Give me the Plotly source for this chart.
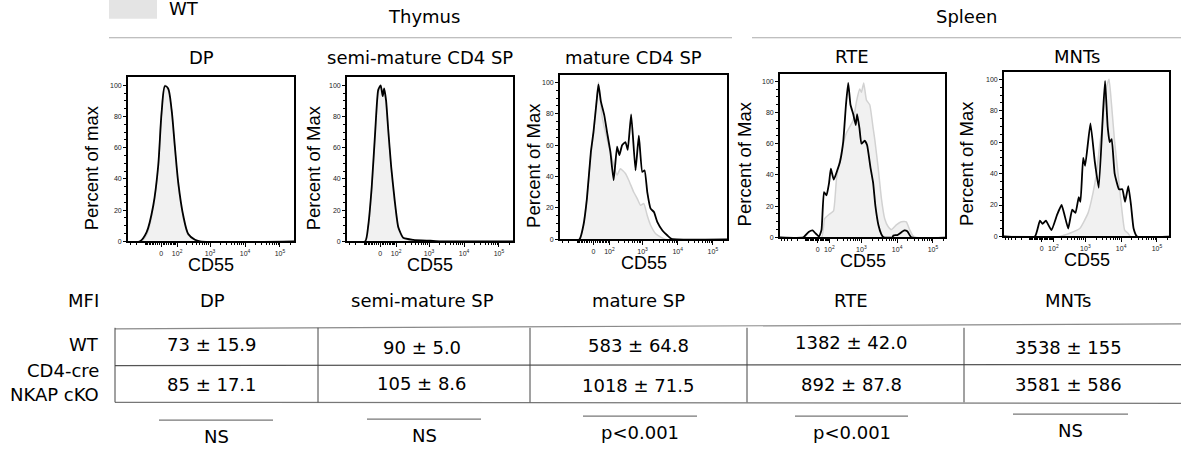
import numpy as np
import plotly.graph_objects as go

W, H = 1181, 450

# ---------------- data (CD55 fluorescence a.u. -> percent of max) ----------------
dp_wt_cd55 = [-700, -140, -85, -44, -16, 2, 20, 38, 59, 82, 110, 162, 231, 366, 511, 300000]
dp_wt_pct = [0, 0, 5, 21.5, 47, 83, 100, 97, 83, 59, 36, 15, 4, 0.8, 0, 0]
dp_ko_cd55 = [-700, -153, -90, -44, -16, 2, 20, 38, 59, 82, 110, 162, 231, 366, 511, 300000]
dp_ko_pct = [0, 0, 5.7, 22.8, 48.3, 82.3, 99.5, 98, 84.5, 61, 37.7, 16.4, 4.7, 1, 0, 0]

semi_wt_cd55 = [-700, -90, -70, -47, -27, -10.6, 2.6, 13.2, 21, 32, 44, 63, 89, 120, 174, 349, 1083, 2096, 300000]
semi_wt_pct = [0, 0, 9, 33, 68, 95, 99, 96, 97, 88, 70, 46, 24, 8, 2, 0.5, 0, 0, 0]
semi_ko_cd55 = [-700, -93, -70, -47, -27, -10.6, 2.6, 13.2, 21, 32, 44, 63, 89, 120, 174, 349, 1083, 2096, 300000]
semi_ko_pct = [0, 0, 10, 35, 70, 97, 100, 93, 98, 90, 72, 48, 26, 9, 2.3, 1, 0.4, 0, 0]

mat_wt_cd55 = [-700, -79, -56, -35, -13, 0.5, 18.6, 27, 47, 81, 124, 180, 227, 321, 401, 560, 703, 875,
               1090, 1365, 1696, 2362, 3281, 4566, 300000]
mat_wt_pct = [0, 0, 9, 26, 55, 68, 90, 100, 79, 64, 51.5, 41, 45, 42, 37.7, 30, 26, 21.7,
              22.8, 15, 9, 3.6, 1.5, 0, 0]
mat_ko_cd55 = [-700, -84, -56, -35, -13, 0.5, 18.6, 27, 41, 62, 81, 108, 140, 180, 212, 256, 321, 375,
               471, 628, 782, 979, 1141, 1365, 1696, 2110, 2640, 3672, 5110, 6650, 300000]
mat_ko_pct = [0, 0, 9, 26, 56, 68.5, 90, 98.7, 87.7, 79, 68.5, 56, 37.7, 59, 53.6, 60, 62, 57,
              79.6, 44, 66, 43, 44, 30, 19.6, 17.4, 11, 5.7, 2.5, 0.4, 0]

rte_wt_cd55 = [-700, 31, 56, 102, 146, 186, 267, 376, 587, 727, 900, 1005, 1166, 1388, 1717, 2137, 2368,
               2942, 3638, 4497, 5590, 6913, 9525, 13130, 18070, 22340, 27790, 34340, 300000]
rte_wt_pct = [0, 0, 12, 15, 17, 38, 55, 67, 75, 87, 95, 93, 99, 88, 85, 70, 63,
              45, 25, 12, 7, 5, 8, 10, 10, 5, 1, 0, 0]
rte_ko_cd55 = [-700, -126, -73, -39, -15, 11.6, 31, 51, 73, 97, 115, 149, 196, 237, 300, 363, 422, 491,
               587, 695, 761, 883, 1005, 1244, 1452, 1795, 2137, 2476, 3000, 3638, 4209, 7368, 7860,
               10150, 15900, 19270, 24900, 300000]
rte_ko_pct = [0, 0, 3.5, 4.5, 2.5, 0.5, 5, 29, 27, 35, 44, 37, 43, 48, 61, 85, 99, 85,
              79, 72, 79, 70, 60, 62, 59, 45, 35, 20, 8, 2, 0, 0, 1.3,
              1.5, 4.5, 4, 0, 0]

mnt_wt_cd55 = [-700, 176, 358, 695, 1196, 1651, 2042, 2524, 3138, 3880, 4608, 5351, 6605, 8220, 10150,
               12550, 15600, 18070, 300000]
mnt_wt_pct = [0, 0, 2, 5, 15, 28, 40, 58, 75, 95, 100, 85, 60, 40, 20, 4, 2, 0, 0]
mnt_ko_cd55 = [-700, -53, -13, 7.7, 33.5, 82, 142, 201, 253, 322, 422, 525, 650, 727, 867, 986, 1388,
               1831, 2368, 3138, 3569, 4209, 4795, 5450, 6605, 8760, 10820, 12870, 15900, 18900,
               22340, 27790, 300000]
mnt_ko_pct = [0, 0, 10, 8, 10, 4, 14, 20, 13, 5, 17, 15, 25, 22, 50, 45, 72,
              48, 31, 80, 99, 70, 60, 62, 40, 30, 30, 22, 32, 20,
              5, 0, 0]

panel_titles = ["DP", "semi-mature CD4 SP", "mature CD4 SP", "RTE", "MNTs"]
y_titles = ["Percent of max", "Percent of Max", "Percent of Max", "Percent of Max", "Percent of Max"]
x_title = "CD55"
x_tick_cd55 = [0, 100, 1000, 10000, 100000]
x_tick_text = ["0", "10<sup>2</sup>", "10<sup>3</sup>", "10<sup>4</sup>", "10<sup>5</sup>"]
y_tick_vals = [0, 20, 40, 60, 80, 100]

tissues = ["Thymus", "Spleen"]
legend_label = "WT"
mfi_columns = ["DP", "semi-mature SP", "mature SP", "RTE", "MNTs"]
row_labels = ["WT", "CD4-cre", "NKAP cKO"]
mfi_wt_mean = [73, 90, 583, 1382, 3538]
mfi_wt_sd = ["15.9", "5.0", "64.8", "42.0", "155"]
mfi_ko_mean = [85, 105, 1018, 892, 3581]
mfi_ko_sd = ["17.1", "8.6", "71.5", "87.8", "586"]
significance = ["NS", "NS", "p<0.001", "p<0.001", "NS"]

# ---------------- styling / layout ----------------
TF = "DejaVu Sans"
AF = "Liberation Sans, Arial, sans-serif"
WT_LINE = "#d2d2d2"
WT_FILL = "#f1f1f1"


def biex(v, c):
    return np.arcsinh(np.asarray(v, dtype=float) / (2.0 * c)) / np.log(10)


def px(x):
    return x / W


def py(y):
    return 1 - y / H


panels = [
    dict(frame=(128, 294, 78, 243), c=40, rng=(-0.95, 3.80), wt=(dp_wt_cd55, dp_wt_pct), ko=(dp_ko_cd55, dp_ko_pct), smooth=0.8),
    dict(frame=(347, 513, 78, 243), c=40, rng=(-0.95, 3.80), wt=(semi_wt_cd55, semi_wt_pct), ko=(semi_ko_cd55, semi_ko_pct), smooth=0.5),
    dict(frame=(560, 727, 75, 241), c=40, rng=(-0.95, 3.80), wt=(mat_wt_cd55, mat_wt_pct), ko=(mat_ko_cd55, mat_ko_pct), smooth=0.4),
    dict(frame=(780, 945, 74, 239), c=60, rng=(-1.05, 3.56), wt=(rte_wt_cd55, rte_wt_pct), ko=(rte_ko_cd55, rte_ko_pct), smooth=0.4),
    dict(frame=(1004, 1169, 72, 238), c=60, rng=(-1.05, 3.56), wt=(mnt_wt_cd55, mnt_wt_pct), ko=(mnt_ko_cd55, mnt_ko_pct), smooth=0.4),
]
title_pos = [(201, 58), (420, 58), (633, 58), (852, 57), (1077, 57)]
ytitle_x = [91, 313, 534, 744, 967]

minor_cd55 = ([-k * 10 ** n for n in (1, 2) for k in range(1, 10)] +
              [k * 10 for k in range(1, 10)] +
              [k * 10 ** n for n in (2, 3, 4, 5) for k in range(2, 10)])

fig = go.Figure()
layout = dict(
    width=W, height=H, autosize=False,
    margin=dict(l=0, r=0, t=0, b=0),
    paper_bgcolor="white", plot_bgcolor="white",
    showlegend=False,
)
annotations = []
shapes = []

for i, p in enumerate(panels):
    n = i + 1
    xa = "x" if n == 1 else f"x{n}"
    ya = "y" if n == 1 else f"y{n}"
    x0, x1, y0, y1 = p["frame"]
    c = p["c"]
    wx, wy = p["wt"]
    kx, ky = p["ko"]
    fig.add_trace(go.Scatter(
        x=biex(wx, c), y=wy, mode="lines", xaxis=xa, yaxis=ya,
        line=dict(color=WT_LINE, width=1.5, shape="spline", smoothing=p["smooth"]),
        fill="tozeroy", fillcolor=WT_FILL, hoverinfo="skip"))
    fig.add_trace(go.Scatter(
        x=biex(kx, c), y=ky, mode="lines", xaxis=xa, yaxis=ya,
        line=dict(color="black", width=1.8, shape="spline", smoothing=p["smooth"]),
        hoverinfo="skip"))

    common = dict(showline=True, mirror=True, linecolor="black", linewidth=1.7,
                  showgrid=False, zeroline=False, ticks="outside", tickcolor="black",
                  tickwidth=1, tickfont=dict(family=AF, size=7, color="#222"))
    layout["xaxis" if n == 1 else f"xaxis{n}"] = dict(
        common, domain=[px(x0), px(x1)], anchor=ya, range=list(p["rng"]),
        tickmode="array", tickvals=list(biex(x_tick_cd55, c)), ticktext=x_tick_text,
        ticklen=4,
        minor=dict(tickmode="array", tickvals=list(biex(minor_cd55, c)), ticks="outside",
                   ticklen=2, tickcolor="black", tickwidth=1))
    layout["yaxis" if n == 1 else f"yaxis{n}"] = dict(
        common, domain=[py(y1), py(y0)], anchor=xa, range=[0, 105],
        tickmode="array", tickvals=y_tick_vals, ticklen=3,
        minor=dict(tickmode="array", tickvals=[v for v in range(5, 105, 5) if v % 20],
                   ticks="outside", ticklen=2, tickcolor="black", tickwidth=1))

    tx, ty = title_pos[i]
    annotations.append(dict(text=panel_titles[i], x=px(tx), y=py(ty), xref="paper", yref="paper",
                            showarrow=False, xanchor="center", yanchor="middle",
                            font=dict(family=TF, size=18, color="black")))
    annotations.append(dict(text=y_titles[i], x=px(ytitle_x[i]), y=py((y0 + y1) / 2 + 9),
                            xref="paper", yref="paper", showarrow=False, textangle=-90,
                            xanchor="center", yanchor="middle",
                            font=dict(family=AF, size=18.5, color="black")))
    annotations.append(dict(text=x_title, x=px((x0 + x1) / 2), y=py(y1 + 24),
                            xref="paper", yref="paper", showarrow=False,
                            xanchor="center", yanchor="middle",
                            font=dict(family=AF, size=18, color="black")))

# header: legend swatch, tissue names, rules
shapes.append(dict(type="rect", xref="paper", yref="paper", x0=px(109), x1=px(157),
                   y0=py(19), y1=py(-10), fillcolor="#e4e4e4", line=dict(width=0), layer="below"))
annotations.append(dict(text=legend_label, x=px(167), y=py(9), xref="paper", yref="paper",
                        showarrow=False, xanchor="left", yanchor="middle",
                        font=dict(family=TF, size=18, color="black")))
for name, (cx, cy) in zip(tissues, [(424, 17), (967, 17)]):
    annotations.append(dict(text=name, x=px(cx), y=py(cy), xref="paper", yref="paper",
                            showarrow=False, xanchor="center", yanchor="middle",
                            font=dict(family=TF, size=18, color="black")))
for (a, b) in [(109, 732), (752, 1181)]:
    shapes.append(dict(type="line", xref="paper", yref="paper", x0=px(a), x1=px(b),
                       y0=py(38), y1=py(38), line=dict(color="#aaaaaa", width=1.2)))

# MFI table
col_x = [212, 422, 638, 851, 1068]
wt_y = [347, 350, 348, 345, 350]
ko_y = [387, 386, 388, 387, 387]
annotations.append(dict(text="MFI", x=px(101), y=py(303), xref="paper", yref="paper",
                        showarrow=False, xanchor="right", yanchor="middle",
                        font=dict(family=TF, size=18, color="black")))
for lab, yy in zip(row_labels, [347, 373, 397]):
    annotations.append(dict(text=lab, x=px(101), y=py(yy), xref="paper", yref="paper",
                            showarrow=False, xanchor="right", yanchor="middle",
                            font=dict(family=TF, size=18, color="black")))
for j in range(5):
    annotations.append(dict(text=mfi_columns[j], x=px(col_x[j]), y=py(303), xref="paper", yref="paper",
                            showarrow=False, xanchor="center", yanchor="middle",
                            font=dict(family=TF, size=18, color="black")))
    annotations.append(dict(text=f"{mfi_wt_mean[j]} ± {mfi_wt_sd[j]}", x=px(col_x[j]), y=py(wt_y[j]),
                            xref="paper", yref="paper", showarrow=False, xanchor="center",
                            yanchor="middle", font=dict(family=TF, size=18, color="black")))
    annotations.append(dict(text=f"{mfi_ko_mean[j]} ± {mfi_ko_sd[j]}", x=px(col_x[j]), y=py(ko_y[j]),
                            xref="paper", yref="paper", showarrow=False, xanchor="center",
                            yanchor="middle", font=dict(family=TF, size=18, color="black")))

# table rules
shapes.append(dict(type="line", xref="paper", yref="paper", x0=px(115), x1=px(1181),
                   y0=py(331), y1=py(326), line=dict(color="#8a8a8a", width=1.2)))
shapes.append(dict(type="line", xref="paper", yref="paper", x0=px(115), x1=px(1181),
                   y0=py(368), y1=py(367), line=dict(color="#555555", width=1.2)))
shapes.append(dict(type="line", xref="paper", yref="paper", x0=px(115), x1=px(1181),
                   y0=py(405), y1=py(406), line=dict(color="#777777", width=1.2)))
for xv in [115, 318, 530, 747, 964]:
    shapes.append(dict(type="line", xref="paper", yref="paper", x0=px(xv), x1=px(xv),
                       y0=py(330), y1=py(405), line=dict(color="#444444", width=1)))

# significance
sig_lines = [(159, 273, 423), (367, 481, 422), (583, 697, 419), (795, 908, 419), (1013, 1128, 417)]
for j, (a, b, yy) in enumerate(sig_lines):
    shapes.append(dict(type="line", xref="paper", yref="paper", x0=px(a), x1=px(b),
                       y0=py(yy), y1=py(yy), line=dict(color="#777777", width=1.2)))
    annotations.append(dict(text=significance[j], x=px((a + b) / 2), y=py(yy + 16),
                            xref="paper", yref="paper", showarrow=False, xanchor="center",
                            yanchor="middle", font=dict(family=TF, size=18, color="black")))

layout["annotations"] = annotations
layout["shapes"] = shapes
fig.update_layout(**layout)
fig.write_html("out.html",
               config={"displayModeBar": False},
               post_script="document.body.style.margin='0';document.body.style.overflow='hidden';")
